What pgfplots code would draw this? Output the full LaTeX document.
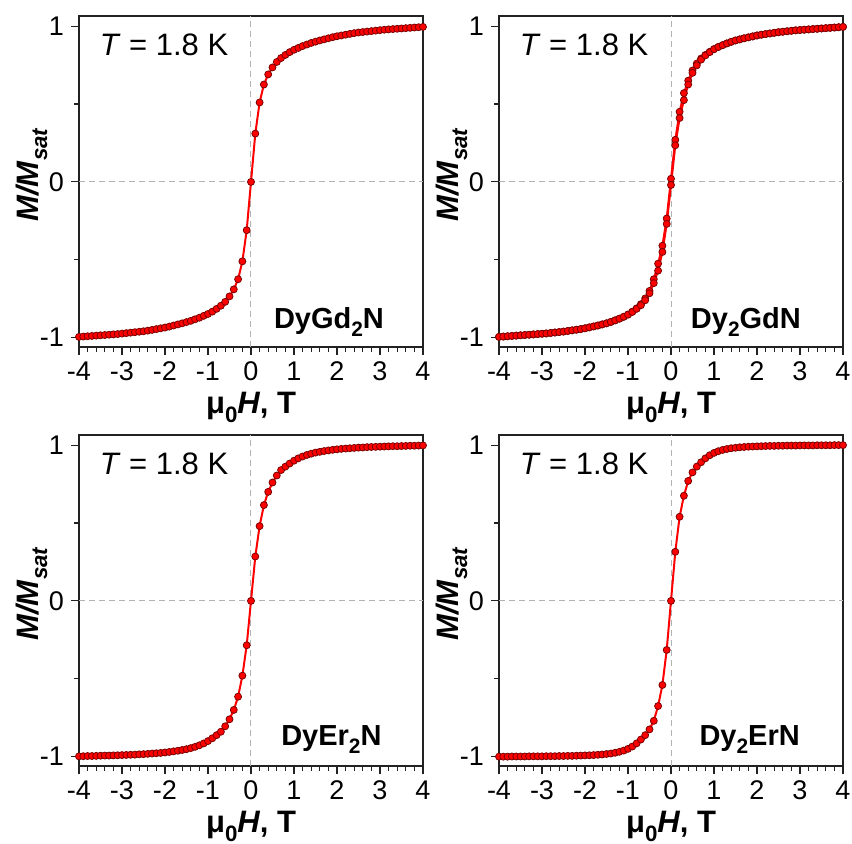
\documentclass[border=0pt]{standalone}
\usepackage{fontspec}
\setmainfont{Liberation Sans}
\usepackage{graphicx}
\usepackage{pgfplots}
\usepackage{pgfplotstable}
\pgfplotsset{compat=1.18}

% columns: DyGd2N, Dy2GdN (two sweep branches), DyEr2N, Dy2ErN
\pgfplotstableread{
H    A      Bd     Bu     C      D
-4.0 -0.995 -0.995 -0.995 -0.998 -1.000
-3.9 -0.993 -0.993 -0.993 -0.997 -1.000
-3.8 -0.991 -0.991 -0.991 -0.996 -1.000
-3.7 -0.989 -0.989 -0.989 -0.996 -0.999
-3.6 -0.987 -0.987 -0.987 -0.995 -0.999
-3.5 -0.985 -0.985 -0.985 -0.994 -0.999
-3.4 -0.983 -0.983 -0.983 -0.993 -0.999
-3.3 -0.981 -0.981 -0.981 -0.993 -0.998
-3.2 -0.979 -0.979 -0.979 -0.992 -0.998
-3.1 -0.977 -0.977 -0.977 -0.991 -0.998
-3.0 -0.974 -0.975 -0.975 -0.990 -0.998
-2.9 -0.971 -0.973 -0.973 -0.989 -0.997
-2.8 -0.968 -0.970 -0.970 -0.988 -0.997
-2.7 -0.965 -0.967 -0.967 -0.987 -0.997
-2.6 -0.962 -0.964 -0.964 -0.985 -0.996
-2.5 -0.959 -0.961 -0.961 -0.984 -0.996
-2.4 -0.955 -0.957 -0.957 -0.982 -0.995
-2.3 -0.950 -0.953 -0.953 -0.980 -0.995
-2.2 -0.945 -0.949 -0.949 -0.978 -0.994
-2.1 -0.940 -0.945 -0.945 -0.976 -0.993
-2.0 -0.935 -0.940 -0.940 -0.973 -0.992
-1.9 -0.929 -0.934 -0.934 -0.970 -0.991
-1.8 -0.922 -0.928 -0.928 -0.966 -0.990
-1.7 -0.915 -0.922 -0.922 -0.962 -0.988
-1.6 -0.908 -0.915 -0.915 -0.957 -0.986
-1.5 -0.900 -0.908 -0.908 -0.952 -0.983
-1.4 -0.892 -0.899 -0.899 -0.945 -0.980
-1.3 -0.882 -0.889 -0.889 -0.937 -0.975
-1.2 -0.872 -0.878 -0.878 -0.927 -0.969
-1.1 -0.860 -0.866 -0.866 -0.915 -0.961
-1.0 -0.848 -0.852 -0.852 -0.900 -0.950
-0.9 -0.833 -0.833 -0.835 -0.882 -0.935
-0.8 -0.815 -0.812 -0.815 -0.862 -0.915
-0.7 -0.795 -0.785 -0.792 -0.840 -0.890
-0.6 -0.770 -0.748 -0.760 -0.805 -0.862
-0.5 -0.735 -0.700 -0.715 -0.760 -0.825
-0.4 -0.690 -0.625 -0.650 -0.700 -0.770
-0.3 -0.625 -0.525 -0.570 -0.615 -0.675
-0.2 -0.510 -0.410 -0.450 -0.480 -0.540
-0.1 -0.310 -0.235 -0.270 -0.285 -0.315
0.0  0.000  0.020 -0.020  0.000  0.000
0.1  0.310  0.270  0.235  0.285  0.315
0.2  0.510  0.450  0.410  0.480  0.540
0.3  0.625  0.570  0.525  0.615  0.675
0.4  0.690  0.650  0.625  0.700  0.770
0.5  0.735  0.715  0.700  0.760  0.825
0.6  0.770  0.760  0.748  0.805  0.862
0.7  0.795  0.792  0.785  0.840  0.890
0.8  0.815  0.815  0.812  0.862  0.915
0.9  0.833  0.835  0.833  0.882  0.935
1.0  0.848  0.852  0.852  0.900  0.950
1.1  0.860  0.866  0.866  0.915  0.961
1.2  0.872  0.878  0.878  0.927  0.969
1.3  0.882  0.889  0.889  0.937  0.975
1.4  0.892  0.899  0.899  0.945  0.980
1.5  0.900  0.908  0.908  0.952  0.983
1.6  0.908  0.915  0.915  0.957  0.986
1.7  0.915  0.922  0.922  0.962  0.988
1.8  0.922  0.928  0.928  0.966  0.990
1.9  0.929  0.934  0.934  0.970  0.991
2.0  0.935  0.940  0.940  0.973  0.992
2.1  0.940  0.945  0.945  0.976  0.993
2.2  0.945  0.949  0.949  0.978  0.994
2.3  0.950  0.953  0.953  0.980  0.995
2.4  0.955  0.957  0.957  0.982  0.995
2.5  0.959  0.961  0.961  0.984  0.996
2.6  0.962  0.964  0.964  0.985  0.996
2.7  0.965  0.967  0.967  0.987  0.997
2.8  0.968  0.970  0.970  0.988  0.997
2.9  0.971  0.973  0.973  0.989  0.997
3.0  0.974  0.975  0.975  0.990  0.998
3.1  0.977  0.977  0.977  0.991  0.998
3.2  0.979  0.979  0.979  0.992  0.998
3.3  0.981  0.981  0.981  0.993  0.998
3.4  0.983  0.983  0.983  0.993  0.999
3.5  0.985  0.985  0.985  0.994  0.999
3.6  0.987  0.987  0.987  0.995  0.999
3.7  0.989  0.989  0.989  0.996  0.999
3.8  0.991  0.991  0.991  0.996  1.000
3.9  0.993  0.993  0.993  0.997  1.000
4.0  0.995  0.995  0.995  0.998  1.000
}\magdata

\definecolor{frameInk}{HTML}{222222}
\definecolor{curveRed}{HTML}{FF0000}
\definecolor{markEdge}{HTML}{7A0000}

% lowered subscript, as the original figure sets it
\newcommand{\lsub}[1]{\raisebox{-0.55ex}{\scalebox{0.72}{#1}}}

\pgfplotsset{
  mhPanel/.style={
    scale only axis,
    width=172pt, height=165.5pt,
    xmin=-4, xmax=4, ymin=-1.06, ymax=1.065,
    xtick={-4,-3,-2,-1,0,1,2,3,4},
    xticklabels={-4,-3,-2,-1,0,1,2,3,4},
    ytick={-1,0,1}, yticklabels={-1,0,1},
    minor x tick num=4, minor y tick num=1,
    tick align=outside, tick pos=left,
    major tick length=4pt, minor tick length=2.5pt,
    axis line style={draw=frameInk, line width=0.8pt},
    tick style={draw=frameInk, line width=0.6pt},
    tick label style={font=\fontsize{13.5}{15}\selectfont, text=black},
    label style={font=\fontsize{15.5}{17}\selectfont, text=black},
    extra x ticks={0}, extra x tick labels={},
    extra y ticks={0}, extra y tick labels={},
    extra tick style={grid=major,
      major grid style={draw=gray!60, densely dashed, line width=0.5pt}},
    xlabel={\textbf{μ\lsub{0}\textit{H}, T}},
    ylabel={\textbf{\textit{M/M}\lsub{\textit{sat}}}},
    xlabel style={at={(axis description cs:0.5,-0.2)}, anchor=base},
    ylabel style={at={(axis description cs:-0.119,0.52)}, anchor=base},
  },
  mhCurve/.style={
    color=curveRed, line width=1pt,
    mark=*, mark size=1.75pt,
    mark options={fill=curveRed, draw=markEdge, line width=0.4pt}
  }
}

\newcommand{\tempnote}{%
  \node[anchor=base west, font=\fontsize{15.5}{17}\selectfont]
    at (rel axis cs:0.04,0.882) {\textit{T} = 1.8 K};}

\begin{document}
\begin{tikzpicture}
  \useasboundingbox (0pt,0pt) rectangle (426pt,-422pt);

  \begin{axis}[mhPanel, at={(39.5pt,-173.5pt)}, anchor=south west]
    \addplot[mhCurve] table[x=H, y=A] {\magdata};
    \tempnote
    \node[anchor=base east, font=\fontsize{14.5}{16}\selectfont]
      at (rel axis cs:0.907,0.057) {\textbf{DyGd\lsub{2}N}};
  \end{axis}

  \begin{axis}[mhPanel, at={(249.5pt,-173.5pt)}, anchor=south west]
    \addplot[mhCurve] table[x=H, y=Bd] {\magdata};
    \addplot[mhCurve] table[x=H, y=Bu] {\magdata};
    \tempnote
    \node[anchor=base east, font=\fontsize{14.5}{16}\selectfont]
      at (rel axis cs:0.898,0.057) {\textbf{Dy\lsub{2}GdN}};
  \end{axis}

  \begin{axis}[mhPanel, at={(39.5pt,-383pt)}, anchor=south west]
    \addplot[mhCurve] table[x=H, y=C] {\magdata};
    \tempnote
    \node[anchor=base east, font=\fontsize{14.5}{16}\selectfont]
      at (rel axis cs:0.90,0.063) {\textbf{DyEr\lsub{2}N}};
  \end{axis}

  \begin{axis}[mhPanel, at={(249.5pt,-383pt)}, anchor=south west]
    \addplot[mhCurve] table[x=H, y=D] {\magdata};
    \tempnote
    \node[anchor=base east, font=\fontsize{14.5}{16}\selectfont]
      at (rel axis cs:0.895,0.063) {\textbf{Dy\lsub{2}ErN}};
  \end{axis}
\end{tikzpicture}
\end{document}
